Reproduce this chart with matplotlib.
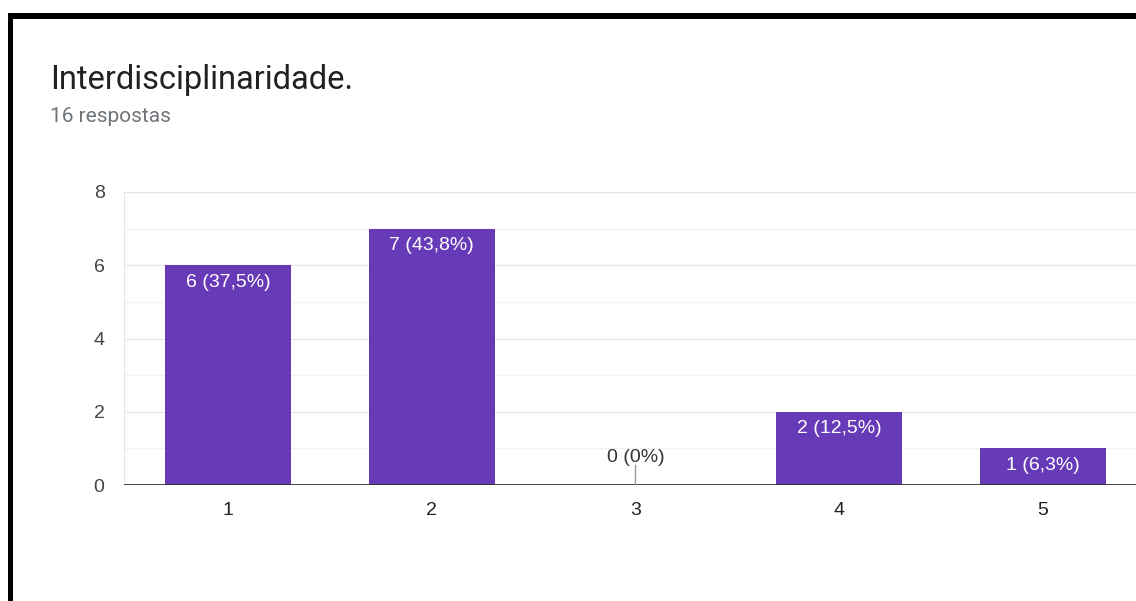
import matplotlib.pyplot as plt
from matplotlib.patches import Rectangle

categories = ['1', '2', '3', '4', '5']
counts = [6, 7, 0, 2, 1]
labels = ['6 (37,5%)', '7 (43,8%)', '0 (0%)', '2 (12,5%)', '1 (6,3%)']
title = 'Interdisciplinaridade.'
subtitle = '16 respostas'

W, H = 1136, 601
fig = plt.figure(figsize=(W / 100, H / 100), dpi=100)
fig.patch.set_facecolor('white')

# plot area in pixels: left 124, right 1136 (cut), y 192..485
ax = fig.add_axes([124 / W, (H - 485) / H, (W - 124) / W, (485 - 192) / H])
x = list(range(1, len(categories) + 1))
purple = '#673ab7'
ax.bar(x, counts, width=0.62, color=purple, zorder=3)

ax.set_xlim(0.4896, 5.457)
ax.set_ylim(0, 8)
for y in [1, 3, 5, 7]:
    ax.axhline(y, color='#f2f2f2', lw=1, zorder=1)
for y in [2, 4, 6, 8]:
    ax.axhline(y, color='#e6e6e6', lw=1, zorder=1)
ax.axvline(0.4896, color='#e6e6e6', lw=1.5, zorder=1)
ax.axhline(0, color='#333333', lw=1.3, zorder=4)

for s in ax.spines.values():
    s.set_visible(False)
ax.set_yticks([0, 2, 4, 6, 8])
ax.set_xticks(x)
ax.set_xticklabels(categories)
ax.tick_params(length=0, labelsize=14, labelcolor='#444444', pad=14)
ax.tick_params(axis='x', pad=12, labelcolor='#222222')
for t in ax.get_xticklabels() + ax.get_yticklabels():
    t.set_fontfamily('Liberation Sans')

for xi, c, lab in zip(x, counts, labels):
    if c > 0:
        ax.annotate(lab, (xi, c), xytext=(0, -6), textcoords='offset points',
                    ha='center', va='top', color='white', fontsize=14,
                    family='Liberation Sans', zorder=5)
    else:
        ax.plot([xi, xi], [0, 0.55], color='#999999', lw=1, zorder=4)
        ax.annotate(lab, (xi, 0.55), xytext=(0, -1), textcoords='offset points',
                    ha='center', va='bottom', color='#333333', fontsize=14,
                    family='Liberation Sans', zorder=5)

fig.text(50 / W, 1 - 89 / H, title, fontsize=23.5, family='Roboto',
         color='#202124', ha='left', va='baseline')
fig.text(50 / W, 1 - 122 / H, subtitle, fontsize=15, family='Roboto',
         color='#70757a', ha='left', va='baseline')

# black frame at top and left
fig.add_artist(Rectangle((8 / W, 1 - 19 / H), 1, 6 / H, transform=fig.transFigure,
                         color='black', lw=0))
fig.add_artist(Rectangle((8 / W, 0), 5 / W, 1 - 13 / H, transform=fig.transFigure,
                         color='black', lw=0))

fig.savefig('out.png', dpi=100)
